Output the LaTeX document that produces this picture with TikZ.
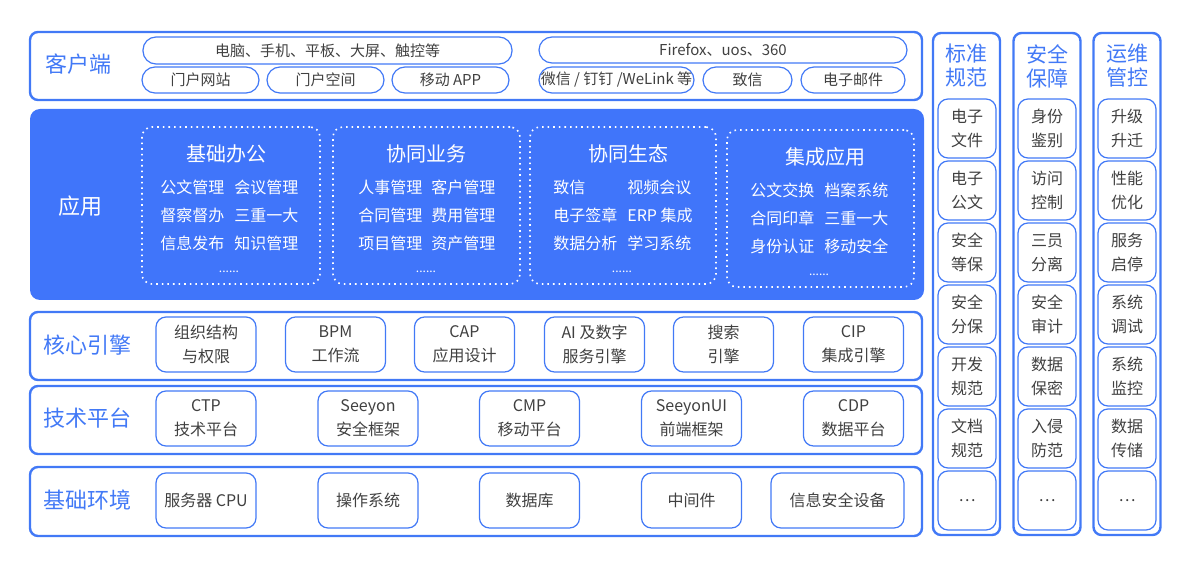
\documentclass[tikz,border=0pt]{standalone}
\usepackage{fontspec}
\setmainfont{Noto Sans CJK SC}
\usetikzlibrary{positioning}
\definecolor{lineblue}{RGB}{66,121,246}
\definecolor{appblue}{RGB}{64,117,250}
\definecolor{textgray}{RGB}{64,64,64}
\tikzset{
  layer/.style={draw=lineblue, line width=1.2pt, rounded corners=4pt, inner sep=0pt},
  pill/.style={draw=lineblue, line width=0.6pt, rounded corners=6.5pt, text=textgray, font=\fontsize{7.5}{9}\selectfont, inner sep=0pt, minimum height=13pt},
  cell/.style={draw=lineblue, line width=0.6pt, rounded corners=5pt, text=textgray, font=\fontsize{8}{12}\selectfont, align=center, inner sep=0pt},
  layertitle/.style={text=lineblue, font=\fontsize{11}{13}\selectfont},
  coltitle/.style={text=lineblue, font=\fontsize{10.5}{12}\selectfont, align=center},
  group/.style={draw=white, dotted, line width=0.8pt, rounded corners=5pt, inner sep=0pt, minimum height=78.5pt},
  grouptitle/.style={text=white, font=\fontsize{10}{12}\selectfont},
  appitem/.style={text=white, font=\fontsize{8}{10}\selectfont, anchor=west, inner sep=0pt},
  more/.style={text=white, font=\fontsize{6}{7}\selectfont},
}

\begin{document}
\begin{tikzpicture}[x=0.5pt, y=-0.5pt]
\useasboundingbox (0,0) rectangle (1200,572);

% client layer
\node[layer, minimum width=446pt, minimum height=34pt] (client) at (476,66) {};
\node[layertitle] (clientlbl) at (79,64) {客户端};
\node[pill, minimum width=184.5pt, minimum height=13.5pt] (devices) at (327.5,50.5) {电脑、手机、平板、大屏、触控等};
\node[pill, minimum width=184pt] (browsers) at (723,50) {Firefox、uos、360};
\node[pill, minimum width=58.5pt] (portal) at (200.5,80) {门户网站};
\node[pill, minimum width=58.5pt] (space) at (325.5,80) {门户空间};
\node[pill, minimum width=58.5pt] (mobile) at (450.5,80) {移动 APP};
\node[pill, minimum width=77.5pt] (im) at (616.5,80) {微信 / 钉钉 /WeLink 等};
\node[pill, minimum width=44.5pt] (zhixin) at (747.5,80) {致信};
\node[pill, minimum width=52pt] (mail) at (853,80) {电子邮件};

% application layer
\node[fill=appblue, rounded corners=5pt, minimum width=447pt, minimum height=95.5pt] (app) at (477,204.5) {};
\node[text=white, font=\fontsize{11}{13}\selectfont] (applbl) at (80,206) {应用};
\node[group, minimum width=89pt] (office) at (231,205.5) {};
\node[group, minimum width=93.5pt] (business) at (426.5,205.5) {};
\node[group, minimum width=93pt] (eco) at (623,205.5) {};
\node[group, minimum width=93.5pt] (integ) at (820.5,208.5) {};
\node[grouptitle] (office-t) at (226,154) {基础办公};
\node[grouptitle] (business-t) at (426,154) {协同业务};
\node[grouptitle] (eco-t) at (628,154) {协同生态};
\node[grouptitle] (integ-t) at (825,157) {集成应用};
\foreach \a/\b [count=\i from 0] in {公文管理/会议管理, 督察督办/三重一大, 信息发布/知识管理} {
  \node[appitem] (office-l\i) at (160,{187+28*\i}) {\a};
  \node[appitem] (office-r\i) at (234,{187+28*\i}) {\b};
}
\foreach \a/\b [count=\i from 0] in {人事管理/客户管理, 合同管理/费用管理, 项目管理/资产管理} {
  \node[appitem] (business-l\i) at (358,{187+28*\i}) {\a};
  \node[appitem] (business-r\i) at (431,{187+28*\i}) {\b};
}
\foreach \a/\b [count=\i from 0] in {致信/视频会议, 电子签章/ERP 集成, 数据分析/学习系统} {
  \node[appitem] (eco-l\i) at (553,{187+28*\i}) {\a};
  \node[appitem] (eco-r\i) at (627,{187+28*\i}) {\b};
}
\foreach \a/\b [count=\i from 0] in {公文交换/档案系统, 合同印章/三重一大, 身份认证/移动安全} {
  \node[appitem] (integ-l\i) at (750,{190+28*\i}) {\a};
  \node[appitem] (integ-r\i) at (824,{190+28*\i}) {\b};
}
\node[more] (office-m) at (229,272) {......};
\node[more] (business-m) at (426,272) {......};
\node[more] (eco-m) at (622,272) {......};
\node[more] (integ-m) at (819,275) {......};

% core engine layer
\node[layer, minimum width=446pt, minimum height=34pt] (core) at (476,346) {};
\node[layertitle] (corelbl) at (87,345) {核心引擎};
\foreach \x/\name/\txt in {206/org/{组织结构\\与权限}, 335.5/bpm/{BPM\\工作流}, 464.5/cap/{CAP\\应用设计}, 594.5/ai/{AI 及数字\\服务引擎}, 723.5/search/{搜索\\引擎}, 853.5/cip/{CIP\\集成引擎}}
  \node[cell, minimum width=50pt, minimum height=27.5pt] (core-\name) at (\x,344.5) {\txt};

% technology platform layer
\node[layer, minimum width=446pt, minimum height=34pt] (tech) at (476,420) {};
\node[layertitle] (techlbl) at (87,418) {技术平台};
\foreach \x/\name/\txt in {206/ctp/{CTP\\技术平台}, 368/seeyon/{Seeyon\\安全框架}, 529.5/cmp/{CMP\\移动平台}, 691.5/ui/{SeeyonUI\\前端框架}, 853.5/cdp/{CDP\\数据平台}}
  \node[cell, minimum width=50pt, minimum height=27.5pt] (tech-\name) at (\x,418.5) {\txt};

% base environment layer
\node[layer, minimum width=446pt, minimum height=34.5pt] (base) at (476,501.5) {};
\node[layertitle] (baselbl) at (87,500) {基础环境};
\foreach \x/\name/\txt in {206/cpu/{服务器 CPU}, 368/os/{操作系统}, 529.5/db/{数据库}, 691.5/mw/{中间件}}
  \node[cell, minimum width=50pt, minimum height=27.5pt] (base-\name) at (\x,500.5) {\txt};
\node[cell, minimum width=66.5pt, minimum height=27.5pt] (base-sec) at (837.5,500.5) {信息安全设备};

% side columns
\foreach \x/\col/\title in {966.5/std/{标准\\规范}, 1047/safe/{安全\\保障}, 1127/ops/{运维\\管控}} {
  \node[layer, minimum width=33.5pt, minimum height=251pt] (\col) at (\x,284) {};
  \node[coltitle] (\col-title) at (\x,66) {\title};
}
\foreach \txt [count=\i from 0] in {{电子\\文件}, {电子\\公文}, {安全\\等保}, {安全\\分保}, {开发\\规范}, {文档\\规范}, {…}}
  \node[cell, minimum width=29pt, minimum height=29.5pt] (std-\i) at (967,{128.5+62*\i}) {\txt};
\foreach \txt [count=\i from 0] in {{身份\\鉴别}, {访问\\控制}, {三员\\分离}, {安全\\审计}, {数据\\保密}, {入侵\\防范}, {…}}
  \node[cell, minimum width=29pt, minimum height=29.5pt] (safe-\i) at (1047,{128.5+62*\i}) {\txt};
\foreach \txt [count=\i from 0] in {{升级\\升迁}, {性能\\优化}, {服务\\启停}, {系统\\调试}, {系统\\监控}, {数据\\传储}, {…}}
  \node[cell, minimum width=29pt, minimum height=29.5pt] (ops-\i) at (1127,{128.5+62*\i}) {\txt};
\end{tikzpicture}
\end{document}
